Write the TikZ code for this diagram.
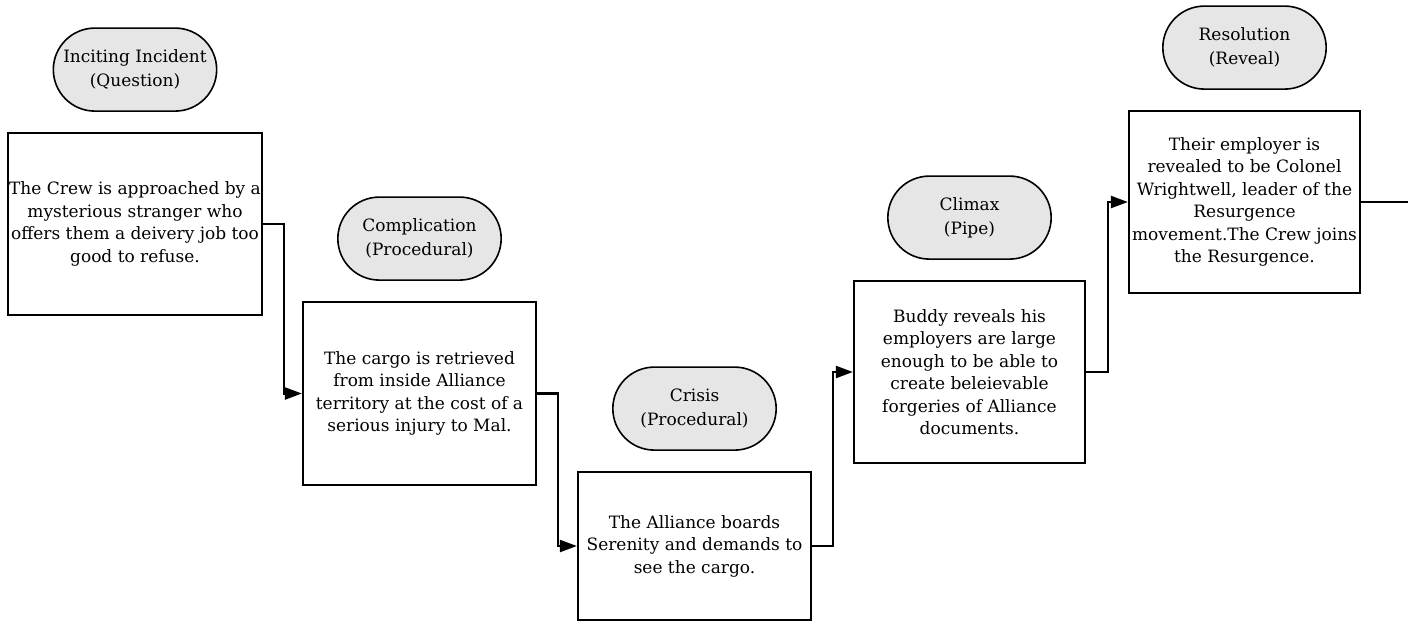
\documentclass[tikz,border=0pt]{standalone}
\usepackage{fontspec}
\setmainfont{DejaVu Serif}
\usetikzlibrary{arrows.meta, positioning, shapes.misc}
\definecolor{phasegray}{HTML}{E6E6E6}
\tikzstyle{plot}=[x=1pt, y=-1pt, >={Triangle[length=17pt,width=12pt]}, font=\fontsize{17}{22.5}\selectfont]
\tikzstyle{beat}=[draw, line width=2.2pt, align=center, inner sep=1pt]
\tikzstyle{phase}=[draw, rounded rectangle, fill=phasegray, line width=1.6pt, minimum width=170pt, minimum height=83pt, align=center, font=\fontsize{17}{24}\selectfont]
\tikzstyle{flow}=[line width=2.2pt]

\begin{document}
\begin{tikzpicture}[plot]
  \useasboundingbox (0,0) rectangle (1408,621);
  % story beats
  \node[beat, minimum width=254pt, minimum height=182pt] (b1) at (135,224) {The Crew is approached by a\\mysterious stranger who\\offers them a deivery job too\\good to refuse.};
  \node[beat, minimum width=233pt, minimum height=183pt] (b2) at (419.5,393.5) {The cargo is retrieved\\from inside Alliance\\territory at the cost of a\\serious injury to Mal.};
  \node[beat, minimum width=233pt, minimum height=148pt] (b3) at (694.5,546) {The Alliance boards\\Serenity and demands to\\see the cargo.};
  \node[beat, minimum width=231pt, minimum height=182pt] (b4) at (969.5,372) {Buddy reveals his\\employers are large\\enough to be able to\\create beleievable\\forgeries of Alliance\\documents.};
  \node[beat, minimum width=231pt, minimum height=182pt] (b5) at (1244.5,202) {Their employer is\\revealed to be Colonel\\Wrightwell, leader of the\\Resurgence\\movement.The Crew joins\\the Resurgence.};
  % act labels
  \node[phase] (p1) [above=20pt of b1] {Inciting Incident\\(Question)};
  \node[phase] (p2) [above=20pt of b2] {Complication\\(Procedural)};
  \node[phase] (p3) [above=20pt of b3] {Crisis\\(Procedural)};
  \node[phase] (p4) [above=20pt of b4] {Climax\\(Pipe)};
  \node[phase] (p5) [above=20pt of b5] {Resolution\\(Reveal)};
  \coordinate (out) at (1408,202);
  % flow
  \draw[flow, ->] (b1.east) -- ++(20.5,0) |- (b2.west);
  \draw[flow, ->] (b2.east) -- ++(21,0) |- (b3.west);
  \draw[flow, ->] (b3.east) -- ++(21,0) |- (b4.west);
  \draw[flow, ->] (b4.east) -- ++(22,0) |- (b5.west);
  \draw[flow] (b5.east) -- (out);
\end{tikzpicture}
\end{document}
